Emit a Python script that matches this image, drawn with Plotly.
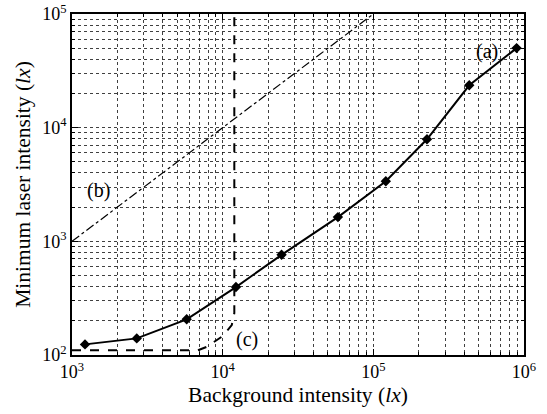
import numpy as np
import plotly.graph_objects as go

# (a) measured minimum laser intensity
bg_a = [1220, 2690, 5770, 12250, 24600, 58200, 121000, 227000, 433000, 893000]
laser_a = [124, 140, 206, 396, 761, 1633, 3380, 7900, 23600, 50100]

# (b) reference line y = x
bg_b = [1000, 100000]
laser_b = [1000, 100000]

# (c) dashed limit curve
bg_c = [1000, 6850, 7830, 10040, 11490, 11950, 11950]
laser_c = [110, 110, 118, 147, 183, 234, 100000]

labels = ["(a)", "(b)", "(c)"]
label_x = [565000, 1510, 14400]
label_y = [46900, 2820, 138]

font_family = "Liberation Serif"

fig = go.Figure()
fig.add_trace(go.Scatter(x=bg_b, y=laser_b, mode="lines",
                         line=dict(color="black", width=1.2, dash="dashdot"),
                         showlegend=False))
fig.add_trace(go.Scatter(x=bg_c, y=laser_c, mode="lines",
                         line=dict(color="black", width=2, dash="dash"),
                         showlegend=False))
fig.add_trace(go.Scatter(x=bg_a, y=laser_a, mode="lines+markers",
                         line=dict(color="black", width=2),
                         marker=dict(symbol="diamond", size=8, color="black"),
                         showlegend=False))

for t, lx, ly in zip(labels, label_x, label_y):
    fig.add_annotation(x=np.log10(lx), y=np.log10(ly), text=t, showarrow=False,
                       font=dict(family=font_family, size=20, color="black"))

def minor_vals(lo, hi):
    return [k * 10 ** d for d in range(lo, hi) for k in range(2, 10)]

axis_common = dict(
    type="log", showline=True, linecolor="black", linewidth=1.5, mirror="ticks",
    ticks="inside", ticklen=6, tickcolor="black", automargin=False,
    ticklabeloverflow="allow",
    showgrid=True, gridcolor="rgba(0,0,0,0.75)", griddash="dot", gridwidth=1,
    zeroline=False,
    tickfont=dict(family=font_family, size=18, color="black"),
)

fig.update_xaxes(**axis_common, range=[3, 6],
                 tickvals=[1e3, 1e4, 1e5, 1e6],
                 ticktext=["10<sup>3</sup>", "10<sup>4</sup>", "10<sup>5</sup>", "10<sup>6</sup>"],
                 minor=dict(tickvals=minor_vals(3, 6), showgrid=True, ticks="inside", ticklen=3,
                            gridcolor="rgba(0,0,0,0.75)", griddash="dot", tickcolor="black"),
                 title=dict(text="Background intensity (<i>lx</i>)",
                            font=dict(family=font_family, size=21.5, color="black"), standoff=6))
fig.update_yaxes(**axis_common, range=[2, 5],
                 tickvals=[1e2, 1e3, 1e4, 1e5],
                 ticktext=["10<sup>2</sup>", "10<sup>3</sup>", "10<sup>4</sup>", "10<sup>5</sup>"],
                 minor=dict(tickvals=minor_vals(2, 5), showgrid=True, ticks="inside", ticklen=3,
                            gridcolor="rgba(0,0,0,0.75)", griddash="dot", tickcolor="black"),
                 title=dict(text="Minimum laser intensity (<i>lx</i>)",
                            font=dict(family=font_family, size=21.5, color="black"), standoff=6))

fig.update_layout(width=547, height=414, margin=dict(l=72, r=23, t=14, b=59),
                  plot_bgcolor="white", paper_bgcolor="white",
                  font=dict(family=font_family, color="black"))

fig.write_html("out.html", config={"displayModeBar": False},
               post_script="document.body.style.margin='0';document.body.style.overflow='hidden';")
